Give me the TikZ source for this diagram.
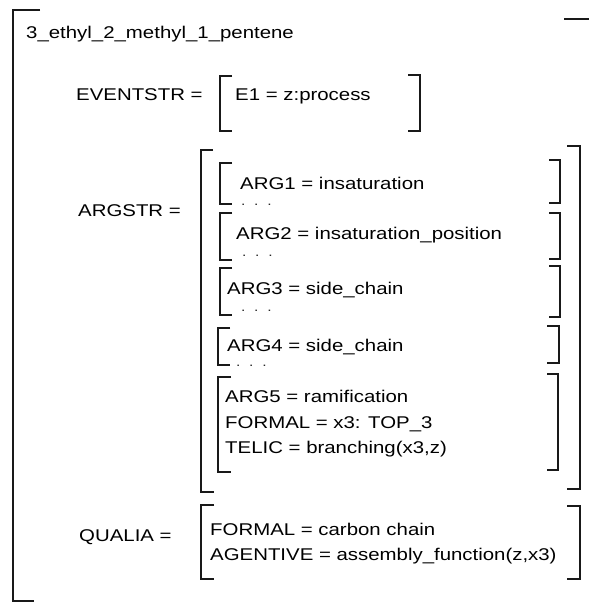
\documentclass[tikz,border=0pt]{standalone}
\usepackage{fontspec}
\setmainfont[FakeStretch=1.2]{Liberation Sans}
\newcommand\txtfs{\fontsize{17}{20}\selectfont}
\newcommand\dotfs{\fontsize{13}{15}\selectfont}
\newcommand\threedots{.\hspace{8.7pt}.\hspace{8.7pt}.}
\begin{document}
\begin{tikzpicture}[x=1pt,y=-1pt,
  txt/.style={anchor=base west,inner sep=0pt,font=\txtfs,text=black},
  dotsn/.style={anchor=base west,inner sep=0pt,font=\dotfs,text=black!85},
  brk/.style={draw=black!90,line width=1.6pt}]
\useasboundingbox (0,0) rectangle (589,604);
% outer bracket
\draw[brk] (40,10) -- (13,10) -- (13,601) -- (34,601);
\draw[brk] (564,19) -- (589,19);
\node[txt] (title) at (26,39) {3\_ethyl\_2\_methyl\_1\_pentene};
% EVENTSTR
\node[txt] (ev) at (76,101) {EVENTSTR =};
\draw[brk] (232,76) -- (220,76) -- (220,131) -- (232,131);
\node[txt] (e1) at (235,101) {E1 = z:process};
\draw[brk] (408,75) -- (420,75) -- (420,131) -- (408,131);
% ARGSTR
\node[txt] (arg) at (78,216) {ARGSTR =};
\draw[brk] (213,150) -- (201,150) -- (201,492) -- (214,492);
\draw[brk] (567,146) -- (580,146) -- (580,489) -- (567,489);
% ARG1
\draw[brk] (232,163) -- (220,163) -- (220,204) -- (232,204);
\node[txt] (a1) at (240,189) {ARG1 = insaturation};
\node[dotsn] (d1) at (241,205) {\threedots};
\draw[brk] (549,160) -- (560,160) -- (560,203) -- (549,203);
% ARG2
\draw[brk] (232,213) -- (220,213) -- (220,260) -- (232,260);
\node[txt] (a2) at (236,239) {ARG2 = insaturation\_position};
\node[dotsn] (d2) at (242,256) {\threedots};
\draw[brk] (549,213) -- (560,213) -- (560,259) -- (549,259);
% ARG3
\draw[brk] (232,268) -- (220,268) -- (220,315) -- (232,315);
\node[txt] (a3) at (227,294) {ARG3 = side\_chain};
\node[dotsn] (d3) at (241,311) {\threedots};
\draw[brk] (549,266) -- (560,266) -- (560,317) -- (549,317);
% ARG4
\draw[brk] (230,328) -- (218,328) -- (218,365) -- (230,365);
\node[txt] (a4) at (227,351) {ARG4 = side\_chain};
\node[dotsn] (d4) at (236,366) {\threedots};
\draw[brk] (547,326) -- (559,326) -- (559,363) -- (547,363);
% ARG5
\draw[brk] (231,377) -- (218,377) -- (218,472) -- (231,472);
\node[txt] (a5) at (225,402) {ARG5 = ramification};
\node[txt] (f5) at (225,428) {FORMAL = x3: TOP\_3};
\node[txt] (t5) at (225,453) {TELIC = branching(x3,z)};
\draw[brk] (547,374) -- (558,374) -- (558,470) -- (547,470);
% QUALIA
\node[txt] (qu) at (79,541) {QUALIA =};
\draw[brk] (214,505) -- (201,505) -- (201,579) -- (214,579);
\node[txt] (qf) at (210,535) {FORMAL = carbon chain};
\node[txt] (qa) at (210,560) {AGENTIVE = assembly\_function(z,x3)};
\draw[brk] (567,506) -- (580,506) -- (580,579) -- (567,579);
\end{tikzpicture}
\end{document}
